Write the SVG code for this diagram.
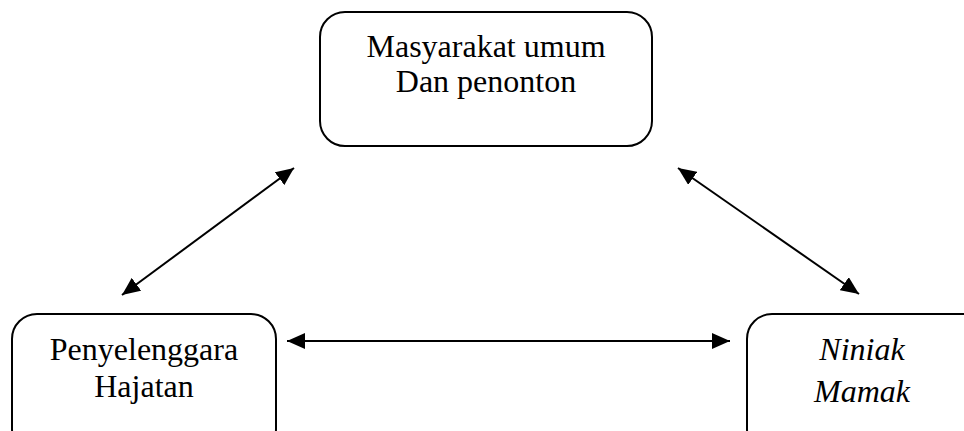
<svg xmlns="http://www.w3.org/2000/svg" width="964" height="431" viewBox="0 0 964 431">
<style>
.box{fill:#fff;stroke:#000;stroke-width:2}
.t{font-family:"Liberation Serif","Times New Roman",serif;font-size:32px;fill:#000;text-anchor:middle}
.i{font-style:italic}
.c{stroke:#000;stroke-width:2;fill:none;marker-start:url(#ah);marker-end:url(#ah)}
</style>
<defs>
<marker id="ah" markerUnits="userSpaceOnUse" markerWidth="20" markerHeight="16" refX="18" refY="8" orient="auto-start-reverse">
<path d="M0,0 L18,8 L0,16 Z" fill="#000"/>
</marker>
</defs>
<rect width="964" height="431" fill="#fff"/>
<g id="masyarakat">
<rect class="box" x="320" y="12" width="332" height="134" rx="25"/>
<text class="t" x="486" y="57">Masyarakat umum</text>
<text class="t" x="486" y="92">Dan penonton</text>
</g>
<g id="penyelenggara">
<rect class="box" x="12" y="314" width="264" height="140" rx="25"/>
<text class="t" x="144" y="360">Penyelenggara</text>
<text class="t" x="144" y="397">Hajatan</text>
</g>
<g id="niniak">
<rect class="box" x="747" y="314" width="260" height="140" rx="25"/>
<text class="t i" x="862" y="360">Niniak</text>
<text class="t i" x="862" y="402">Mamak</text>
</g>
<g id="connectors">
<line class="c" x1="122" y1="295" x2="294" y2="168"/>
<line class="c" x1="678" y1="168" x2="859" y2="294"/>
<line class="c" x1="287" y1="341" x2="730" y2="341"/>
</g>
</svg>
